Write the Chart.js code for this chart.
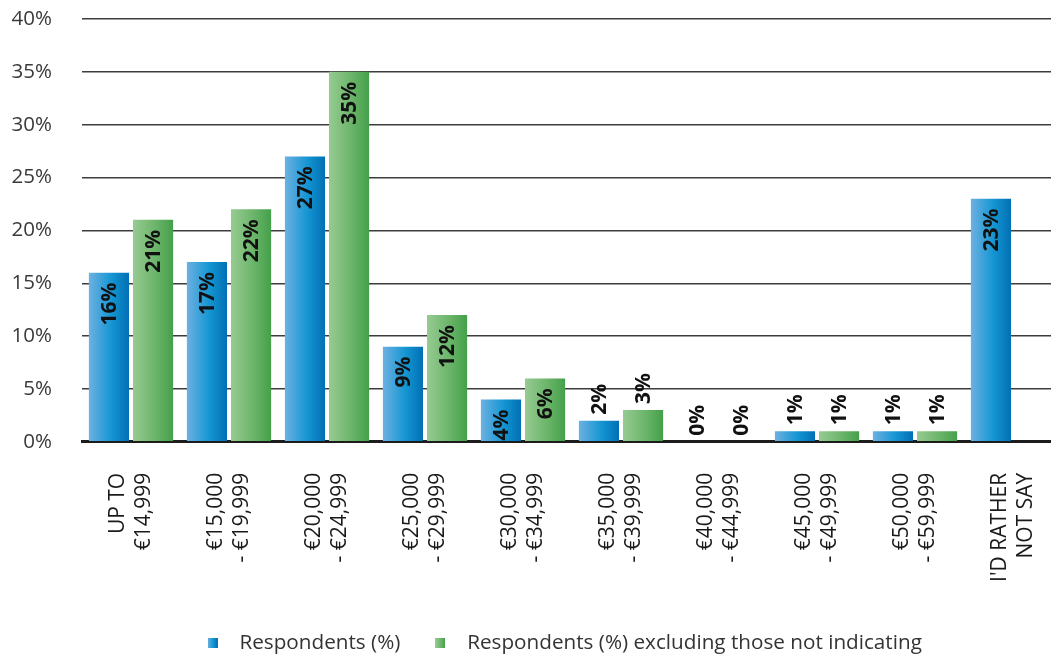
<!DOCTYPE html>
<html>
<head>
<meta charset="utf-8">
<script src="https://cdn.jsdelivr.net/npm/chart.js@4/dist/chart.umd.min.js"></script>
<style>
  html, body { margin: 0; padding: 0; background: #fff; overflow: hidden; }
  #wrap { width: 1051px; height: 654px; overflow: hidden; }
  #box { width: 1062px; height: 654px; position: relative; }
</style>
</head>
<body>
<div id="wrap"><div id="box"><canvas id="income-chart"></canvas></div></div>
<script>
// income bands (two-line tick labels)
const categories = [
  ['UP TO', '€14,999'],
  ['€15,000', '- €19,999'],
  ['€20,000', '- €24,999'],
  ['€25,000', '- €29,999'],
  ['€30,000', '- €34,999'],
  ['€35,000', '- €39,999'],
  ['€40,000', '- €44,999'],
  ['€45,000', '- €49,999'],
  ['€50,000', '- €59,999'],
  ["I'D RATHER", 'NOT SAY']
];
const respondents = [16, 17, 27, 9, 4, 2, 0, 1, 1, 23];
const respondentsExcl = [21, 22, 35, 12, 6, 3, 0, 1, 1, null];
const yTicks = [0, 5, 10, 15, 20, 25, 30, 35, 40];

const CAT_PCT = 0.9;
const BAR_PCT = 0.91;
const FONT = "'Open Sans', 'Noto Sans', sans-serif";

const blueStops = ['#6db1e1', '#1696d3', '#0070b4'];
const greenStops = ['#97cb91', '#6cb56b', '#44a049'];

// horizontal gradient across each bar, worked out from the x scale
function barFill(stops) {
  return (c) => {
    const chart = c.chart;
    const xs = chart.scales && chart.scales.x;
    if (!xs || c.dataIndex === undefined || !isFinite(xs.width) || xs.width <= 0) return stops[1];
    const n = chart.data.datasets.length;
    const catW = xs.width / chart.data.labels.length;
    const groupW = catW * CAT_PCT;
    const slot = groupW / n;
    const center = xs.getPixelForValue(c.dataIndex);
    const left = center - groupW / 2 + c.datasetIndex * slot + slot * (1 - BAR_PCT) / 2;
    const w = slot * BAR_PCT;
    const g = chart.ctx.createLinearGradient(left, 0, left + w, 0);
    g.addColorStop(0, stops[0]);
    g.addColorStop(0.55, stops[1]);
    g.addColorStop(1, stops[2]);
    return g;
  };
}

// small gradient square used as the legend marker
function legendSwatch(stops) {
  const c = document.createElement('canvas');
  c.width = 10; c.height = 10;
  const x = c.getContext('2d');
  const g = x.createLinearGradient(0, 0, 10, 0);
  g.addColorStop(0, stops[0]);
  g.addColorStop(0.55, stops[1]);
  g.addColorStop(1, stops[2]);
  x.fillStyle = g;
  x.fillRect(0, 0, 10, 10);
  return c;
}
const swatches = [legendSwatch(blueStops), legendSwatch(greenStops)];

// rotated value labels, inside the bar top for tall bars, above for short ones
const valueLabels = {
  id: 'valueLabels',
  afterDatasetsDraw(chart) {
    const ctx = chart.ctx;
    chart.data.datasets.forEach((ds, di) => {
      const meta = chart.getDatasetMeta(di);
      meta.data.forEach((bar, i) => {
        const v = ds.data[i];
        if (v === null || v === undefined) return;
        ctx.save();
        ctx.translate(bar.x, bar.y);
        ctx.rotate(-Math.PI / 2);
        ctx.font = 'bold 21px ' + FONT;
        ctx.fillStyle = '#111';
        ctx.textBaseline = 'middle';
        if (v >= 4) {
          ctx.textAlign = 'right';
          ctx.fillText(v + '%', -10, 1);
        } else {
          ctx.textAlign = 'left';
          ctx.fillText(v + '%', 6, 1);
        }
        ctx.restore();
      });
    });
  }
};

// nudge the legend row to where it sits in the original
const legendShift = {
  id: 'legendShift',
  afterLayout(chart) {
    const lg = chart.legend;
    if (!lg) return;
    lg.left += 28; lg.right += 28;
    lg.top += 9; lg.bottom += 9;
    if (lg.adjustHitBoxes) lg.adjustHitBoxes();
  }
};

const chart = new Chart(document.getElementById('income-chart'), {
  type: 'bar',
  data: {
    labels: categories,
    datasets: [
      {
        label: 'Respondents (%)',
        data: respondents,
        backgroundColor: barFill(blueStops),
        categoryPercentage: CAT_PCT,
        barPercentage: BAR_PCT
      },
      {
        label: 'Respondents (%) excluding those not indicating',
        data: respondentsExcl,
        backgroundColor: barFill(greenStops),
        categoryPercentage: CAT_PCT,
        barPercentage: BAR_PCT
      }
    ]
  },
  options: {
    responsive: true,
    maintainAspectRatio: false,
    animation: false,
    layout: { padding: { top: 19, bottom: 0, left: 0, right: 0 } },
    plugins: {
      tooltip: { enabled: false },
      legend: {
        position: 'bottom',
        labels: {
          usePointStyle: true,
          pointStyleWidth: 33,
          boxHeight: 10,
          padding: 23.5,
          color: '#333',
          font: { family: FONT, size: 20.7 },
          generateLabels(ch) {
            const items = Chart.defaults.plugins.legend.labels.generateLabels(ch);
            items.forEach((it, k) => {
              it.pointStyle = swatches[k];
              it.lineWidth = 0;
              it.strokeStyle = 'rgba(0,0,0,0)';
            });
            return items;
          }
        }
      }
    },
    scales: {
      x: {
        grid: { display: false, drawTicks: false },
        border: { display: true, color: '#1c1c1c', width: 3 },
        ticks: {
          color: '#1a1a1a',
          font: { family: FONT, size: 21, lineHeight: 1.24 },
          minRotation: 90,
          maxRotation: 90,
          autoSkip: false,
          padding: 31,
          labelOffset: -13
        },
        afterFit(scale) {
          scale.height = 158;
          scale.paddingLeft = 0;
          scale.paddingRight = 0;
        }
      },
      y: {
        min: 0,
        max: 40,
        afterBuildTicks(scale) { scale.ticks = yTicks.map(v => ({ value: v })); },
        grid: {
          drawTicks: false,
          color: '#3d3d3d',
          lineWidth: 1.5
        },
        border: { display: false },
        ticks: {
          color: '#3a3a3a',
          font: { family: FONT, size: 20.5 },
          padding: 30,
          callback: v => v + '%'
        },
        afterFit(scale) {
          scale.width = 82;
          scale.paddingTop = 0;
          scale.paddingBottom = 0;
        }
      }
    }
  },
  plugins: [valueLabels, legendShift]
});
</script>
</body>
</html>
